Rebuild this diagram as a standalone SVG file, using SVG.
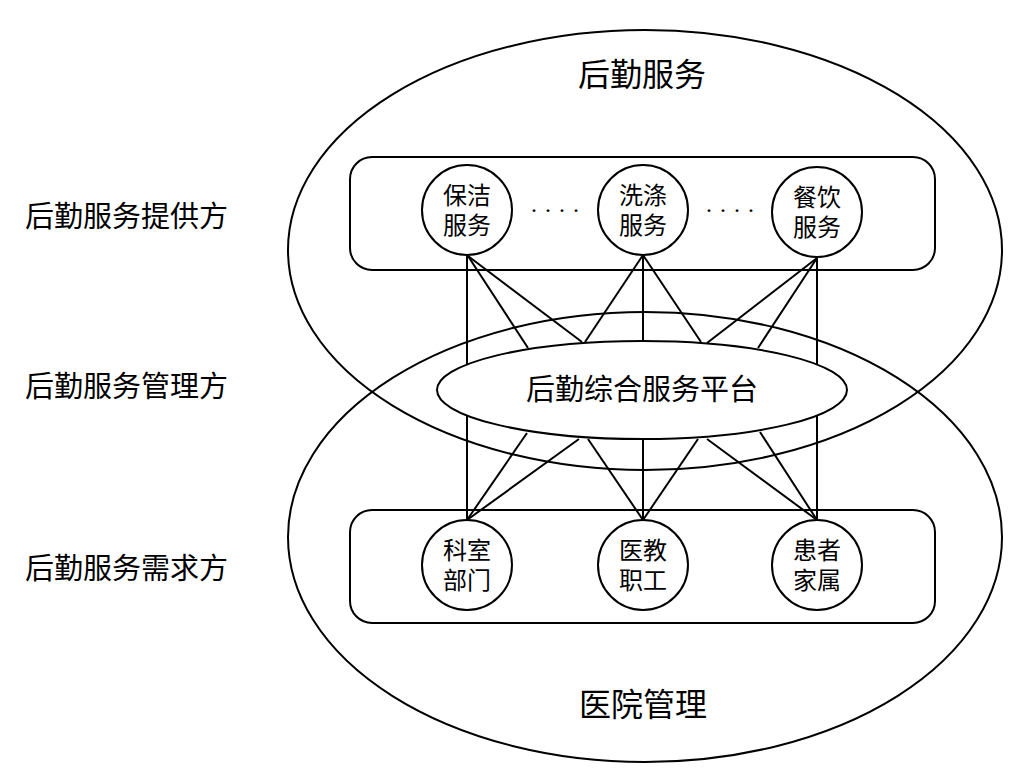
<svg xmlns="http://www.w3.org/2000/svg" width="1028" height="777" viewBox="0 0 1028 777">
<style>
.s{fill:none;stroke:#000;stroke-width:2}
.w{fill:#fff;stroke:#000;stroke-width:2}
text{font-family:"Liberation Serif","Noto Sans CJK SC",serif;fill:#000}
.c{font-size:24px;text-anchor:middle}
.l{font-size:29px}
.t{font-size:32px;text-anchor:middle}
</style>
<rect width="1028" height="777" fill="#fff"/>
<g id="ellipse-top"><ellipse class="s" cx="645" cy="250" rx="357" ry="220"/></g>
<g id="ellipse-bottom"><ellipse class="s" cx="645" cy="537" rx="357" ry="225"/></g>
<g id="rect-top"><rect class="s" x="350" y="157" width="585" height="113" rx="22"/></g>
<g id="rect-bottom"><rect class="s" x="350" y="510" width="585" height="113" rx="22"/></g>
<g id="connectors" stroke="#000" stroke-width="2">
<line x1="467" y1="256" x2="467" y2="520"/>
<line x1="643" y1="255" x2="643" y2="520"/>
<line x1="817" y1="258" x2="817" y2="520"/>
<line x1="468" y1="256" x2="528" y2="348"/>
<line x1="468" y1="256" x2="582" y2="342"/>
<line x1="643" y1="255" x2="585" y2="342"/>
<line x1="643" y1="255" x2="701" y2="342"/>
<line x1="817" y1="258" x2="707" y2="343"/>
<line x1="817" y1="258" x2="758" y2="348"/>
<line x1="467" y1="520" x2="527" y2="433"/>
<line x1="467" y1="520" x2="579" y2="439"/>
<line x1="643" y1="520" x2="588" y2="439"/>
<line x1="643" y1="520" x2="698" y2="439"/>
<line x1="817" y1="520" x2="707" y2="439"/>
<line x1="817" y1="520" x2="760" y2="432"/>
</g>
<g id="platform"><ellipse class="w" cx="642" cy="390" rx="205" ry="49"/><text class="t" x="642" y="400" style="font-size:29px">后勤综合服务平台</text></g>
<g id="n1"><circle class="w" cx="467" cy="210" r="45"/><text class="c" x="467" y="204">保洁</text><text class="c" x="467" y="234">服务</text></g>
<g id="n2"><circle class="w" cx="643" cy="210" r="45"/><text class="c" x="643" y="204">洗涤</text><text class="c" x="643" y="234">服务</text></g>
<g id="n3"><circle class="w" cx="817" cy="212" r="45"/><text class="c" x="817" y="206">餐饮</text><text class="c" x="817" y="236">服务</text></g>
<g id="n4"><circle class="w" cx="467" cy="565" r="45"/><text class="c" x="467" y="559">科室</text><text class="c" x="467" y="589">部门</text></g>
<g id="n5"><circle class="w" cx="643" cy="565" r="45"/><text class="c" x="643" y="559">医教</text><text class="c" x="643" y="589">职工</text></g>
<g id="n6"><circle class="w" cx="817" cy="565" r="45"/><text class="c" x="817" y="559">患者</text><text class="c" x="817" y="589">家属</text></g>
<g id="dots"><text class="c" x="555" y="218">· · · ·</text><text class="c" x="730" y="218">· · · ·</text></g>
<g id="labels">
<text class="l" x="25" y="227">后勤服务提供方</text>
<text class="l" x="25" y="397">后勤服务管理方</text>
<text class="l" x="25" y="579">后勤服务需求方</text>
<text class="t" x="642" y="86">后勤服务</text>
<text class="t" x="643" y="716">医院管理</text>
</g>
</svg>
